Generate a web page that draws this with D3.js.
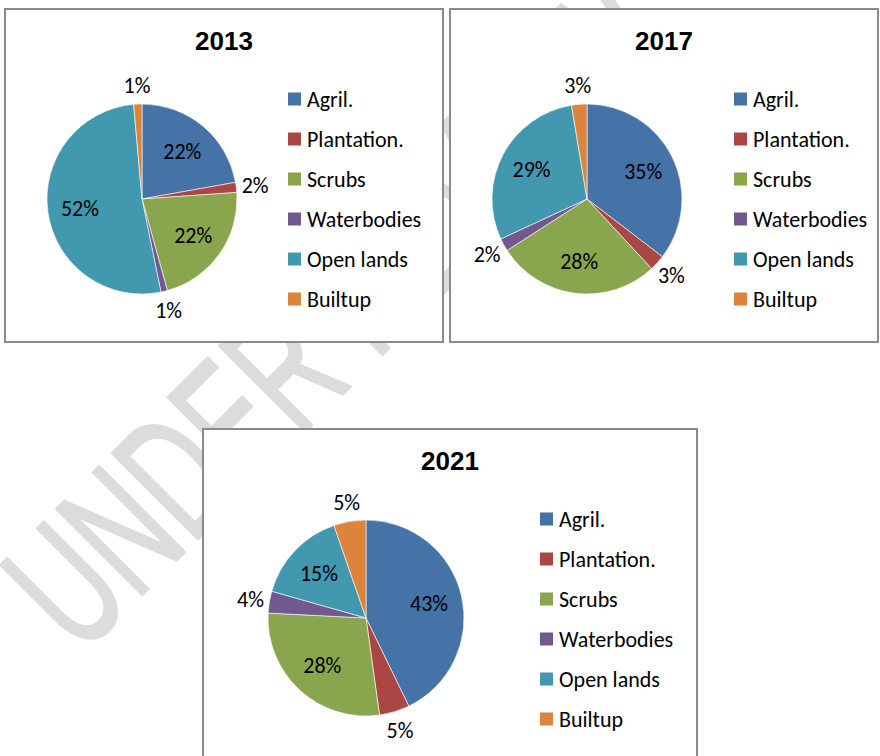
<!DOCTYPE html>
<html>
<head>
<meta charset="utf-8">
<script src="https://cdn.jsdelivr.net/npm/d3@7"></script>
<style>
  body { margin: 0; background: #fff; }
  svg { display: block; }
  .legend text, .lbl { font-family: Carlito, Lato, "Open Sans", sans-serif; font-size: 22px; fill: #000; }
  .title { font-family: "Liberation Sans", Arial, sans-serif; font-weight: bold; font-size: 26px; }
</style>
</head>
<body>
<script>
const width = 880;
const height = 756;

// Land-use categories and shares (%) per year
const categories = ["Agril.", "Plantation.", "Scrubs", "Waterbodies", "Open lands", "Builtup"];
const years = ["2013", "2017", "2021"];
const values2013 = [22.2, 1.7, 21.8, 1.1, 51.8, 1.4];
const values2017 = [35.4, 2.7, 27.8, 2.2, 29.3, 2.6];
const values2021 = [42.8, 5.0, 28.0, 3.6, 15.3, 5.3];
const colors = ["#4572A7", "#AA4643", "#89A54E", "#71588F", "#4198AF", "#DB843D"];

// Panel layout (box, pie centre, legend position)
const panels = [
  {year: years[0], values: values2013, x: 5,   y: 9,   w: 438, h: 333, cx: 137, cy: 190, r: 95, lx: 283},
  {year: years[1], values: values2017, x: 450, y: 9,   w: 428, h: 333, cx: 137, cy: 190, r: 95, lx: 284},
  {year: years[2], values: values2021, x: 203, y: 429, w: 494, h: 340, cx: 163, cy: 189, r: 98, lx: 337}
];

const svg = d3.select("body")
  .append("svg")
  .attr("width", width)
  .attr("height", height)
  .attr("viewBox", [0, 0, width, height]);

svg.append("rect").attr("width", width).attr("height", height).attr("fill", "#fff");

// Faint diagonal watermark behind the charts
svg.append("g")
  .attr("transform", "rotate(-45)")
  .append("text")
  .attr("transform", "translate(-408,521) scale(0.62,1)")
  .attr("font-family", "Liberation Sans, Arial, sans-serif")
  .attr("font-size", 176)
  .attr("fill", "#dcdcdc")
  .attr("stroke", "#dcdcdc")
  .attr("stroke-width", 3)
  .attr("stroke-linejoin", "round")
  .text("UNDER REVIEW");

const color = d3.scaleOrdinal().domain(categories).range(colors);
const pie = d3.pie().sort(null).value(d => d.value);

panels.forEach(p => {
  const g = svg.append("g").attr("transform", `translate(${p.x},${p.y})`);

  g.append("rect")
    .attr("width", p.w)
    .attr("height", p.h)
    .attr("fill", "#fff")
    .attr("stroke", "#8a8a8a")
    .attr("stroke-width", 2);

  g.append("text")
    .attr("class", "title")
    .attr("x", p.w / 2)
    .attr("y", 41)
    .attr("text-anchor", "middle")
    .text(p.year);

  const data = categories.map((c, i) => ({name: c, value: p.values[i]}));
  const arcs = pie(data);
  const arc = d3.arc().innerRadius(0).outerRadius(p.r);
  const inner = d3.arc().innerRadius(p.r * 0.66).outerRadius(p.r * 0.66);
  const outer = d3.arc().innerRadius(p.r + 19).outerRadius(p.r + 19);

  const pg = g.append("g").attr("transform", `translate(${p.cx},${p.cy})`);

  pg.selectAll("path")
    .data(arcs)
    .join("path")
    .attr("d", arc)
    .attr("fill", d => color(d.data.name))
    .attr("stroke", "#fff")
    .attr("stroke-width", 0.6);

  pg.selectAll(".lbl")
    .data(arcs)
    .join("text")
    .attr("class", "lbl")
    .attr("transform", d => `translate(${(d.data.value < 6 ? outer : inner).centroid(d)})`)
    .attr("text-anchor", "middle")
    .attr("dy", "0.35em")
    .text(d => Math.round(d.data.value) + "%");

  const legend = g.append("g")
    .attr("class", "legend")
    .attr("transform", `translate(${p.lx},90)`);

  const item = legend.selectAll("g")
    .data(categories)
    .join("g")
    .attr("transform", (d, i) => `translate(0,${i * 40})`);

  item.append("rect")
    .attr("y", -6.5)
    .attr("width", 13)
    .attr("height", 13)
    .attr("fill", d => color(d));

  item.append("text")
    .attr("x", 19)
    .attr("dy", "0.35em")
    .text(d => d);
});
</script>
</body>
</html>
